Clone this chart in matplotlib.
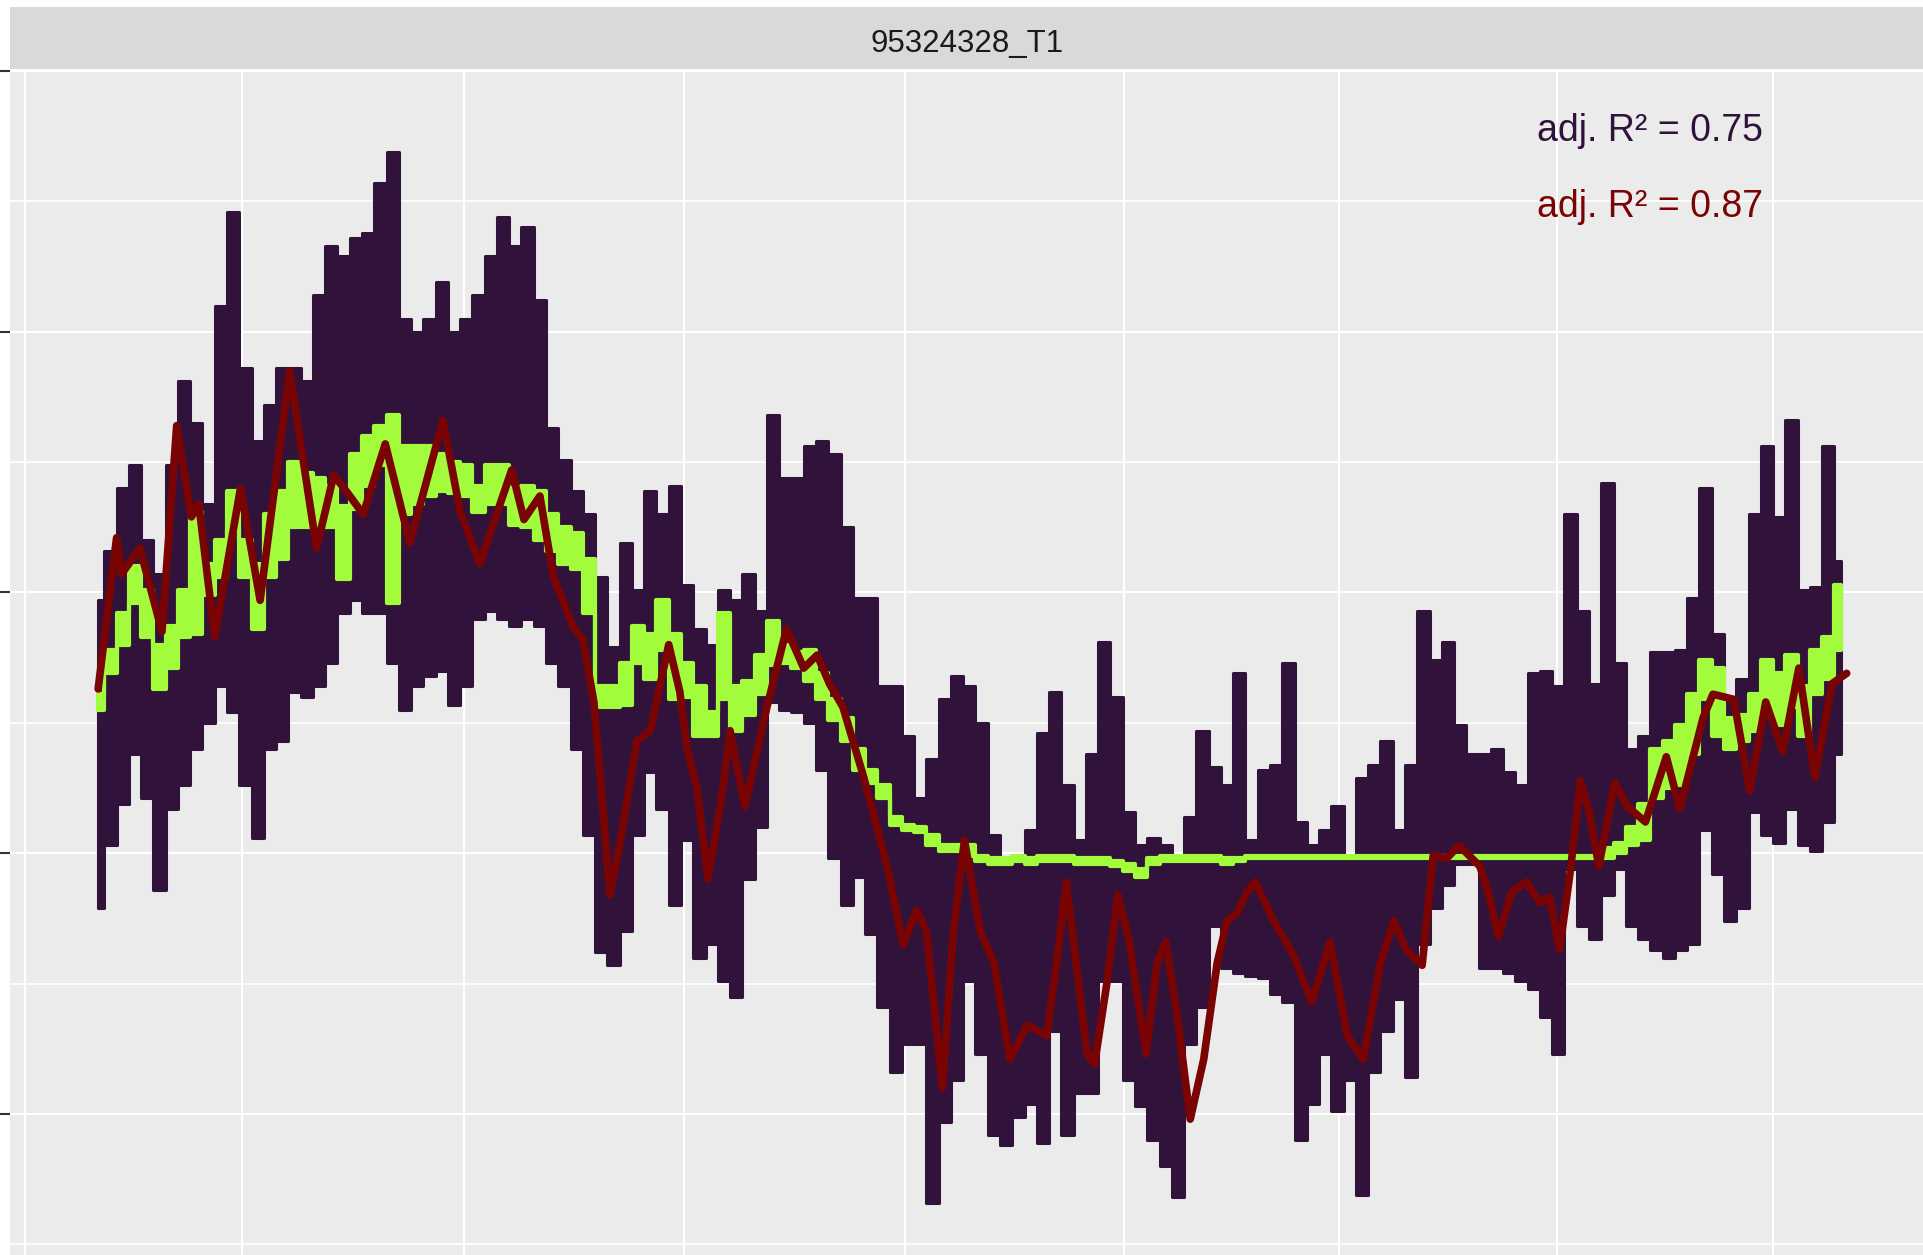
import numpy as np
import matplotlib
matplotlib.use("Agg")
import matplotlib.pyplot as plt

# ---------------- data ----------------
panel_title = "95324328_T1"
r2_labels = ["adj. R\u00b2 = 0.75", "adj. R\u00b2 = 0.87"]

# time index of the observed series
t = np.arange(143)

# observed signal: upper / lower swing at each time step
signal_hi = [19.7, 21.6, 24.0, 24.9, 22.0, 20.7, 24.9, 28.1, 26.5, 23.4,
             31.0, 34.6, 28.6, 25.8, 27.2, 28.6, 28.6, 28.1, 31.4, 33.3,
             32.9, 33.6, 33.8, 35.7, 36.9, 30.5, 30.0, 30.5, 31.9, 30.0,
             30.5, 31.4, 32.9, 34.4, 33.3, 34.0, 31.2, 26.3, 25.1, 23.9,
             23.0, 20.6, 17.9, 21.9, 20.1, 23.9, 23.0, 24.1, 20.3, 18.6,
             18.0, 20.1, 19.7, 20.7, 19.3, 26.8, 24.4, 24.4, 25.6, 25.8,
             25.3, 22.5, 19.8, 19.8, 16.4, 16.4, 14.5, 12.1, 13.6, 15.9,
             16.8, 16.4, 15.0, 10.7, 9.8, 9.8, 10.9, 14.6, 16.2, 12.6,
             10.5, 13.8, 18.1, 16.0, 11.6, 10.3, 10.6, 10.3, 9.8, 11.4,
             14.7, 13.3, 12.6, 16.9, 10.5, 13.2, 13.4, 17.3, 11.2, 10.3,
             10.9, 11.8, 9.8, 12.9, 13.4, 14.3, 10.9, 13.4, 19.3, 17.4,
             18.1, 14.9, 13.8, 13.8, 14.0, 13.1, 12.6, 16.9, 17.0, 16.4,
             23.0, 19.3, 16.5, 24.2, 17.3, 14.0, 14.5, 17.7, 17.7, 17.8,
             19.8, 24.0, 18.4, 16.0, 16.7, 23.0, 25.6, 22.9, 26.6, 20.1,
             20.2, 25.6, 21.2]
signal_lo = [7.9, 10.3, 11.9, 13.8, 12.1, 8.6, 11.7, 12.6, 14.0, 15.0,
             16.4, 15.4, 12.6, 10.6, 14.0, 14.3, 16.2, 16.0, 16.4, 17.3,
             19.2, 19.7, 19.2, 19.2, 17.3, 15.5, 16.4, 16.8, 17.0, 15.7,
             16.4, 19.0, 19.3, 19.0, 18.7, 19.0, 18.7, 17.3, 16.4, 14.0,
             10.7, 6.2, 5.7, 7.0, 10.7, 13.1, 11.7, 8.0, 10.5, 6.0,
             6.5, 5.1, 4.5, 9.0, 11.0, 15.8, 15.5, 15.4, 15.0, 13.2,
             9.8, 8.0, 9.1, 6.9, 4.1, 1.6, 2.7, 2.7, -3.4, -0.3,
             1.3, 5.1, 2.3, -0.8, -1.2, -0.1, 0.4, -1.1, 3.2, -0.8,
             0.8, 0.8, 5.1, 5.1, 1.3, 0.3, -1.0, -2.0, -3.2, 2.7,
             4.1, 7.2, 5.6, 5.4, 5.3, 5.2, 4.6, 4.3, -1.0, 0.4,
             2.3, 0.1, 1.3, -3.1, 1.6, 3.2, 4.4, 1.4, 6.5, 7.9,
             8.8, 9.6, 9.6, 5.6, 5.6, 5.4, 5.1, 4.8, 3.7, 2.3,
             9.4, 7.2, 6.7, 8.4, 9.4, 7.2, 6.7, 6.3, 6.0, 6.3,
             6.5, 10.9, 9.2, 7.4, 7.9, 11.6, 10.7, 10.4, 11.7, 10.3,
             10.1, 11.2, 13.8]

# first model (green): upper / lower swing
model1_hi = [16.1, 17.8, 19.2, 21.0, 20.1, 18.0, 18.7, 20.1, 23.1, 21.1,
             22.0, 23.9, 22.0, 21.1, 23.0, 23.9, 25.0, 24.6, 24.4, 24.1,
             23.3, 25.3, 26.0, 26.4, 26.8, 25.6, 25.6, 25.6, 25.3, 25.0,
             24.9, 24.1, 24.9, 24.9, 24.0, 24.1, 23.9, 23.0, 22.5, 22.3,
             21.3, 16.4, 16.4, 17.3, 18.7, 18.4, 19.7, 18.4, 17.3, 16.4,
             15.4, 19.2, 16.4, 16.6, 17.6, 18.9, 18.0, 17.7, 17.8, 16.9,
             15.9, 15.2, 14.0, 13.2, 12.6, 11.4, 11.1, 11.0, 10.7, 10.3,
             10.3, 10.3, 9.9, 9.8, 9.8, 9.9, 9.8, 9.9, 9.9, 9.9,
             9.8, 9.8, 9.8, 9.7, 9.6, 9.4, 9.8, 9.9, 9.9, 9.9,
             9.9, 9.9, 9.8, 9.8, 9.9, 9.9, 9.9, 9.9, 9.9, 9.9,
             9.9, 9.9, 9.9, 9.9, 9.9, 9.9, 9.9, 9.9, 9.9, 9.9,
             9.9, 9.9, 9.9, 9.9, 9.9, 9.9, 9.9, 9.9, 9.9, 9.9,
             9.9, 9.9, 9.9, 10.2, 10.4, 11.0, 11.9, 14.0, 14.3, 14.9,
             16.1, 17.4, 17.1, 15.2, 15.3, 16.1, 17.4, 16.9, 17.6, 16.4,
             17.8, 18.3, 20.3]
model1_lo = [15.5, 16.9, 18.0, 19.6, 18.3, 16.3, 17.1, 18.3, 18.4, 19.9,
             20.6, 22.4, 20.6, 18.6, 20.6, 21.3, 22.5, 22.5, 22.5, 22.5,
             20.5, 23.2, 24.1, 24.9, 19.6, 23.0, 23.4, 23.7, 23.9, 23.8,
             23.7, 23.1, 23.4, 23.4, 22.6, 22.5, 22.0, 21.6, 21.1, 20.9,
             19.2, 15.6, 15.6, 15.7, 17.3, 16.7, 17.8, 15.9, 16.0, 14.5,
             14.5, 15.9, 14.7, 15.3, 16.1, 17.2, 17.3, 17.1, 16.6, 15.9,
             15.1, 14.3, 13.2, 12.7, 12.1, 11.1, 10.9, 10.8, 10.3, 10.1,
             10.1, 9.9, 9.7, 9.6, 9.6, 9.7, 9.6, 9.7, 9.7, 9.7,
             9.6, 9.6, 9.6, 9.5, 9.3, 9.1, 9.6, 9.7, 9.7, 9.7,
             9.7, 9.7, 9.6, 9.7, 9.8, 9.8, 9.8, 9.8, 9.8, 9.8,
             9.8, 9.8, 9.8, 9.8, 9.8, 9.8, 9.8, 9.8, 9.8, 9.8,
             9.8, 9.8, 9.8, 9.8, 9.8, 9.8, 9.8, 9.8, 9.8, 9.8,
             9.8, 9.8, 9.8, 9.8, 10.0, 10.3, 10.5, 12.1, 12.5, 12.6,
             13.8, 15.9, 14.5, 14.0, 14.3, 14.7, 15.6, 14.9, 15.6, 14.5,
             16.1, 16.7, 17.8]

# second model (dark red)
model2_t = [0, 1.5, 1.9, 3.4, 5.2, 6.4, 7.6, 8.2, 9.5, 11.6, 13.2, 15.6, 17.8,
            19.2, 20.2, 21.6, 23.4, 25.4, 28.1, 29.5, 31.1, 33.7, 34.7, 36.0,
            37.1, 38.7, 39.5, 40.4, 41.0, 41.7, 42.5, 43.9, 45.0, 46.5, 47.4,
            48.0, 48.8, 49.7, 50.8, 51.5, 52.7, 54.5, 56.1, 57.5, 58.6, 59.6,
            60.7, 62.4, 64.3, 65.6, 66.7, 67.5, 68.8, 69.7, 70.6, 71.9, 73.0,
            74.3, 75.7, 77.3, 78.0, 78.9, 79.9, 80.6, 81.2, 82.2, 83.1, 84.0,
            85.4, 86.3, 87.0, 87.9, 89.0, 90.1, 91.2, 92.0, 92.8, 93.6, 94.3,
            95.8, 97.4, 98.9, 100.4, 101.8, 103.1, 104.5, 105.6, 106.6, 107.9,
            108.8, 109.9, 110.9, 112.6, 113.3, 114.1, 115.2, 116.4, 117.5,
            118.3, 119.1, 120.0, 120.8, 121.5, 122.3, 123.6, 124.6, 126.1,
            127.8, 128.9, 130.8, 131.6, 133.3, 134.6, 135.9, 137.3, 138.6,
            139.9, 141.3, 142.5]
model2_v = [16.3, 22.1, 20.7, 21.7, 18.5, 26.4, 22.9, 23.4, 18.3, 24.0, 19.7,
            28.5, 21.7, 24.5, 23.9, 23.0, 25.7, 21.9, 26.6, 23.1, 21.1, 24.7,
            22.8, 23.7, 20.6, 18.7, 18.2, 15.8, 12.5, 8.4, 10.3, 14.3, 14.7,
            18.0, 16.2, 14.0, 12.5, 9.0, 12.1, 14.7, 11.8, 15.6, 18.6, 17.1,
            17.6, 16.5, 15.6, 12.9, 9.5, 6.5, 7.8, 7.0, 1.0, 7.0, 10.5, 7.0,
            5.8, 2.1, 3.4, 3.0, 5.4, 8.9, 5.0, 2.3, 1.9, 5.0, 8.4, 6.7, 2.3,
            5.8, 6.6, 3.9, -0.2, 2.1, 5.8, 7.4, 7.7, 8.5, 8.9, 7.4, 6.1, 4.3,
            6.6, 3.0, 2.1, 5.8, 7.4, 6.3, 5.7, 9.9, 9.8, 10.3, 9.5, 8.5, 6.8,
            8.5, 8.9, 8.1, 8.3, 6.3, 9.4, 12.8, 11.6, 9.5, 12.7, 11.8, 11.2,
            13.7, 11.7, 15.2, 16.1, 15.9, 12.4, 15.8, 13.9, 17.1, 12.9, 16.5,
            16.9]

x_breaks = [-5.96, 11.72, 29.82, 47.72, 65.78, 83.61, 101.15, 118.87, 136.52]
y_major = [0, 10, 20, 30, 40]
y_minor = [-5, 5, 15, 25, 35]

# ---------------- style ----------------
C_SIGNAL = "#30123B"
C_MODEL1 = "#A2FC3C"
C_MODEL2 = "#7A0403"
FONT = "Liberation Sans"

W, H, DPI = 1924, 1255, 100
fig = plt.figure(figsize=(W / DPI, H / DPI), dpi=DPI, facecolor="white")

ax = fig.add_axes([10 / W, 0, 1914 / W, 1185 / H])
ax.set_facecolor("#EBEBEB")
for s in ax.spines.values():
    s.set_visible(False)
ax.set_xlim(-7.185, 148.8)
ax.set_ylim(-5.41, 40.04)

ax.set_xticks(x_breaks)
ax.set_yticks(y_major)
ax.set_yticks(y_minor, minor=True)
ax.tick_params(axis="x", length=0, labelbottom=False)
ax.tick_params(axis="y", which="major", length=7, width=1.5, color="#333333",
               direction="out", labelleft=False)
ax.tick_params(axis="y", which="minor", length=0, labelleft=False)
ax.grid(True, which="major", color="white", linewidth=1.45)
ax.grid(True, which="minor", axis="y", color="white", linewidth=1.2)
ax.set_axisbelow(True)

# observed signal: dense daily oscillation -> blocky band between its swings
ax.fill_between(t, signal_lo, signal_hi, step="mid", facecolor=C_SIGNAL,
                edgecolor=C_SIGNAL, linewidth=2.2, joinstyle="round", zorder=3)

# model 1 (green)
ax.fill_between(t, model1_lo, model1_hi, step="mid", facecolor=C_MODEL1,
                edgecolor=C_MODEL1, linewidth=3.0, joinstyle="round", zorder=4)

# model 2 (dark red)
ax.plot(model2_t, model2_v, color=C_MODEL2, linewidth=5.5,
        solid_joinstyle="round", solid_capstyle="round", zorder=5)

ax.text(117.24, 37.32, r2_labels[0], color=C_SIGNAL, fontsize=27,
        family=FONT, ha="left", va="baseline", zorder=6)
ax.text(117.24, 34.40, r2_labels[1], color=C_MODEL2, fontsize=27,
        family=FONT, ha="left", va="baseline", zorder=6)

# facet strip
sax = fig.add_axes([10 / W, 1 - 69 / H, 1914 / W, 62 / H])
sax.set_facecolor("#D9D9D9")
sax.set_xticks([])
sax.set_yticks([])
for s in sax.spines.values():
    s.set_visible(False)
sax.text(0.5, 0.282, panel_title, transform=sax.transAxes, ha="center",
         va="baseline", fontsize=22.5, color="#1A1A1A", family=FONT)

fig.savefig("out.png", dpi=DPI, facecolor="white")
